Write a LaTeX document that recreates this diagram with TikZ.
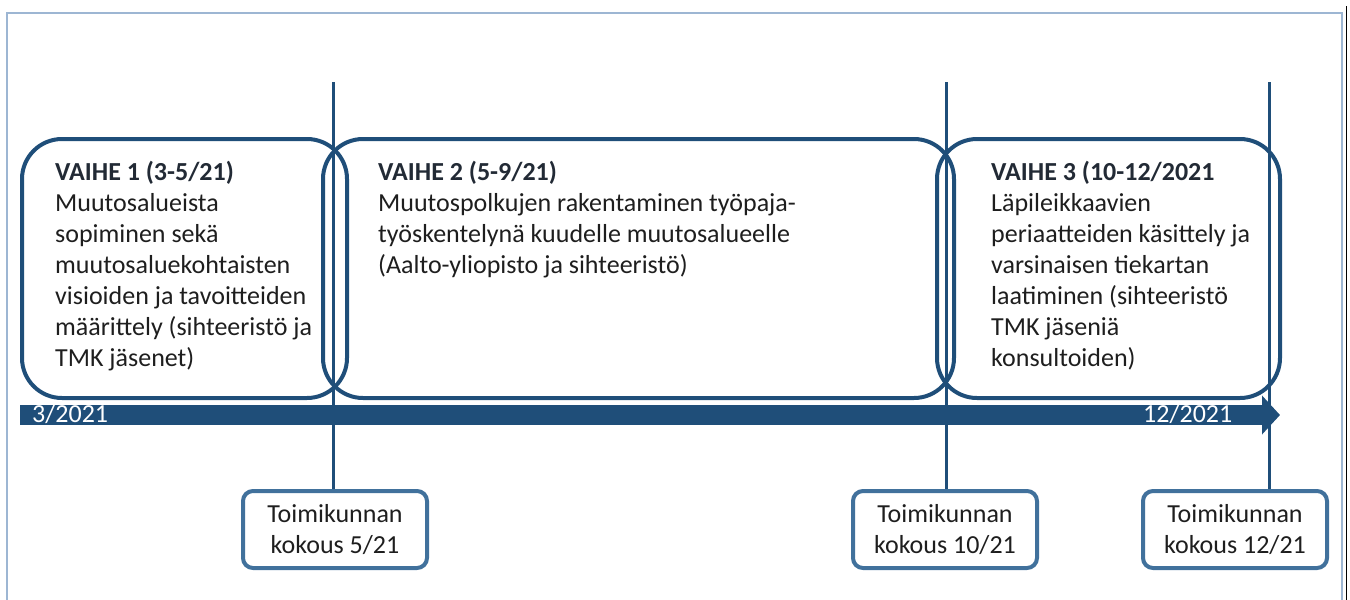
\documentclass[tikz,border=0pt]{standalone}
\usepackage{fontspec}
\setmainfont{Carlito}
\usetikzlibrary{arrows.meta,positioning}

\definecolor{phaseblue}{HTML}{1F4E79}
\definecolor{meetblue}{HTML}{41719C}
\definecolor{framecol}{HTML}{9DB6D3}
\definecolor{headcol}{HTML}{222A35}
\definecolor{bodycol}{HTML}{1E1E1E}

\begin{document}
\begin{tikzpicture}[x=1pt,y=-1pt]
          \tikzstyle{phase} = [draw=phaseblue, line width=4pt, rounded corners=40pt, anchor=north west, inner sep=0pt]
          \tikzstyle{ptext} = [anchor=north west, inner sep=0pt, align=left, text=bodycol, font=\fontsize{26}{31}\selectfont]
          \tikzstyle{meet} = [draw=meetblue, line width=4pt, rounded corners=10pt, minimum width=184pt, minimum height=77pt, align=center, text=bodycol, inner sep=0pt, font=\fontsize{26}{31}\selectfont]
          \tikzstyle{mline} = [draw=phaseblue, line width=3pt]
          \tikzstyle{datelbl} = [text=white, inner sep=0pt, font=\fontsize{26}{31}\selectfont]

          \useasboundingbox (0,0) rectangle (1350,600);
          % frame
          \draw[framecol, line width=2pt] (7,600) |- (1342,13) -- (1342,600);
          \draw[black, line width=1pt] (1346,6) -- (1346,600);

          % phases
          \node[phase, minimum width=325pt, minimum height=259pt] (v1box) at (20,137) {};
          \node[phase, minimum width=631pt, minimum height=259pt] (v2box) at (321,137) {};
          \node[phase, minimum width=343pt, minimum height=259pt] (v3box) at (935,137) {};

          \node[ptext] (v1text) at (55,161) {\textbf{\color{headcol}VAIHE 1 (3-5/21)}\\Muutosalueista\\sopiminen sekä\\muutosaluekohtaisten\\visioiden ja tavoitteiden\\määrittely (sihteeristö ja\\TMK jäsenet)};
          \node[ptext] (v2text) at (378,161) {\textbf{\color{headcol}VAIHE 2 (5-9/21)}\\Muutospolkujen rakentaminen työpaja-\\työskentelynä kuudelle muutosalueelle\\(Aalto-yliopisto ja sihteeristö)};
          \node[ptext] (v3text) at (991,161) {\textbf{\color{headcol}VAIHE 3 (10-12/2021}\\Läpileikkaavien\\periaatteiden käsittely ja\\varsinaisen tiekartan\\laatiminen (sihteeristö\\TMK jäseniä\\konsultoiden)};

          % meetings
          \node[meet] (kok1) at (335,529.5) {Toimikunnan\\kokous 5/21};
          \node[meet] (kok2) at (945,529.5) {Toimikunnan\\kokous 10/21};
          \node[meet] (kok3) at (1235,529.5) {Toimikunnan\\kokous 12/21};

          \coordinate (m1top) at (333,82);
          \coordinate (m2top) at (946,82);
          \coordinate (m3top) at (1269,82);
          \draw[mline] (m1top) -- (m1top |- kok1.north);
          \draw[mline] (m2top) -- (m2top |- kok2.north);
          \draw[mline] (m3top) -- (m3top |- kok3.north);

          % timeline
          \coordinate (tstart) at (20,415);
          \coordinate (tend) at (1280,415);
          \draw[phaseblue, line width=20pt, -{Triangle[width=38pt,length=18pt]}] (tstart) -- (tend);
          \node[datelbl, anchor=base west] (dstart) at (32,422) {3/2021};
          \node[datelbl, anchor=base west] (dend) at (1143,422) {12/2021};
        \end{tikzpicture}
\end{document}
